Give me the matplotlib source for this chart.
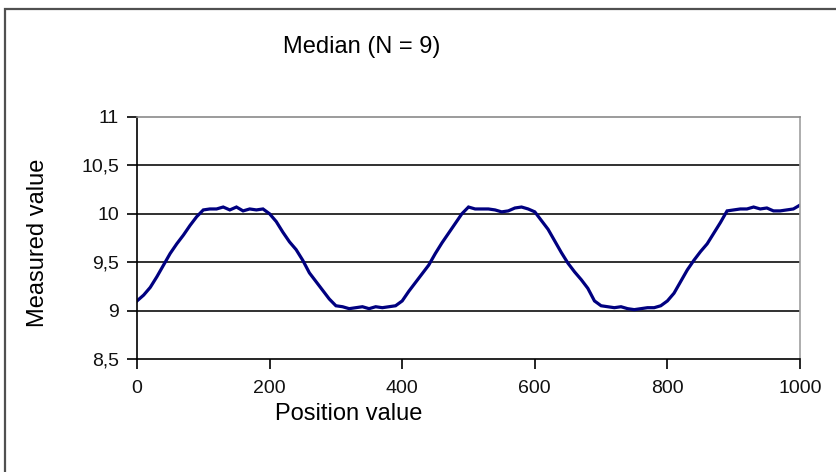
import matplotlib
matplotlib.use("Agg")
import matplotlib.pyplot as plt
from matplotlib.patches import Rectangle
from matplotlib import font_manager

# ---- data ----
positions = list(range(0, 1001, 10))
measured = [
    9.10, 9.16, 9.24, 9.35, 9.47, 9.59, 9.69, 9.78, 9.88, 9.97,
    10.04, 10.05, 10.05, 10.07, 10.04, 10.07, 10.03, 10.05, 10.04, 10.05,
    10.00, 9.92, 9.81, 9.71, 9.63, 9.52, 9.39, 9.30, 9.21, 9.12,
    9.05, 9.04, 9.02, 9.03, 9.04, 9.02, 9.04, 9.03, 9.04, 9.05,
    9.10, 9.20, 9.29, 9.38, 9.47, 9.59, 9.70, 9.80, 9.90, 10.00,
    10.07, 10.05, 10.05, 10.05, 10.04, 10.02, 10.03, 10.06, 10.07, 10.05,
    10.02, 9.93, 9.84, 9.72, 9.60, 9.49, 9.40, 9.32, 9.23, 9.10,
    9.05, 9.04, 9.03, 9.04, 9.02, 9.01, 9.02, 9.03, 9.03, 9.05,
    9.10, 9.18, 9.30, 9.42, 9.52, 9.61, 9.69, 9.80, 9.91, 10.03,
    10.04, 10.05, 10.05, 10.07, 10.05, 10.06, 10.03, 10.03, 10.04, 10.05,
    10.09,
]
x_ticks = [0, 200, 400, 600, 800, 1000]
y_ticks = [8.5, 9, 9.5, 10, 10.5, 11]
y_tick_labels = ["8,5", "9", "9,5", "10", "10,5", "11"]
title_text = "Median (N = 9)"
x_label = "Position value"
y_label = "Measured value"

# ---- fonts ----
names = {f.name for f in font_manager.fontManager.ttflist}
fam = [n for n in ["Liberation Sans", "DejaVu Sans"] if n in names]
plt.rcParams["font.family"] = fam

W, H = 836, 472
fig = plt.figure(figsize=(W / 100, H / 100), dpi=100)
fig.patch.set_facecolor("white")

# outer chart border (extends past right/bottom edges)
fig.patches.append(Rectangle((5 / W, -0.05), 1.2, 1 - 9 / H + 0.05,
                             transform=fig.transFigure, fill=False,
                             edgecolor="#505050", linewidth=1.6))

ax = fig.add_axes([137 / W, 1 - 359 / H, 663 / W, 242 / H])
ax.plot(positions, measured, color="#000080", linewidth=2.3, solid_joinstyle="miter")
ax.set_xlim(0, 1000)
ax.set_ylim(8.5, 11)
ax.set_xticks(x_ticks)
ax.set_xticklabels([str(t) for t in x_ticks])
ax.set_yticks(y_ticks)
ax.set_yticklabels(y_tick_labels)
for yv in [9, 9.5, 10, 10.5]:
    ax.axhline(yv, color="#202020", linewidth=1.3, zorder=0)

ax.spines["left"].set_color("black")
ax.spines["bottom"].set_color("black")
ax.spines["left"].set_linewidth(1.2)
ax.spines["bottom"].set_linewidth(1.2)
ax.spines["top"].set_color("#8a8a8a")
ax.spines["right"].set_color("#a0a0a0")
ax.spines["right"].set_linewidth(1.2)
ax.spines["top"].set_linewidth(1.2)

ax.tick_params(axis="both", direction="out", length=7, width=1.2, color="black",
               labelsize=14, labelcolor="#111111")
ax.tick_params(axis="y", pad=6)
ax.tick_params(axis="x", pad=8)

fig.text(362 / W, 1 - 47 / H, title_text, ha="center", va="center", fontsize=17)
fig.text(349 / W, 1 - 414 / H, x_label, ha="center", va="center", fontsize=17)
fig.text(38 / W, 1 - 243 / H, y_label, ha="center", va="center", fontsize=17,
         rotation=90)

fig.savefig("out.png", dpi=100, facecolor="white")
